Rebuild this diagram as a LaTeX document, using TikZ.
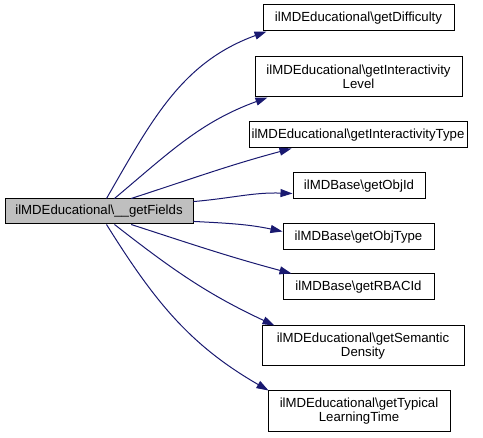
\documentclass[tikz,border=0pt]{standalone}
\usepackage{fontspec}
\setmainfont{Liberation Sans}
\usepackage{tikz}
\usetikzlibrary{arrows.meta, calc}
\definecolor{EdgeBlue}{HTML}{191970}
\definecolor{SrcGray}{HTML}{BFBFBF}

\begin{document}
\begin{tikzpicture}[x=1pt, y=1pt,
    fnbox/.style={draw=black, fill=white, line width=1pt, inner sep=2pt, align=center,
      font=\fontsize{13.2}{14}\selectfont},
    callarrow/.style={draw=EdgeBlue, line width=1pt, -{Triangle[length=12pt, width=8pt]}}]
  \useasboundingbox (0,0) rectangle (483,438);
  % Caller
  \node[fnbox, fill=SrcGray, minimum width=188pt, minimum height=25pt] (src) at (99,226.5)
    {ilMDEducational\textbackslash\_\_getFields};
  % Callees
  \node[fnbox, minimum width=191pt, minimum height=26pt] (difficulty) at (358.5,420)
    {ilMDEducational\textbackslash getDifficulty};
  \node[fnbox, minimum width=207pt, minimum height=40pt] (interLevel) at (358.5,361)
    {ilMDEducational\textbackslash getInteractivity\\Level};
  \node[fnbox, minimum width=218pt, minimum height=26pt] (interType) at (358,303)
    {ilMDEducational\textbackslash getInteractivityType};
  \node[fnbox, minimum width=132pt, minimum height=26pt] (objId) at (359,252)
    {ilMDBase\textbackslash getObjId};
  \node[fnbox, minimum width=151pt, minimum height=26pt] (objType) at (358.5,201)
    {ilMDBase\textbackslash getObjType};
  \node[fnbox, minimum width=151pt, minimum height=26pt] (rbacId) at (358.5,151)
    {ilMDBase\textbackslash getRBACId};
  \node[fnbox, minimum width=202pt, minimum height=40pt] (semDensity) at (363,92)
    {ilMDEducational\textbackslash getSemantic\\Density};
  \node[fnbox, minimum width=182pt, minimum height=41pt] (learnTime) at (359,26.5)
    {ilMDEducational\textbackslash getTypical\\LearningTime};
  % Calls
  \draw[callarrow] (src.60) to[out=60, in=200] ($(difficulty.south west)+(4,0)$);
  \draw[callarrow] (src.40) to[out=40, in=200] ($(interLevel.south west)+(13,0)$);
  \draw[callarrow] (src.22) to[out=18, in=195] ($(interType.south west)+(43,0)$);
  \draw[callarrow] (src.6) to[out=5, in=178] ($(objId.south west)+(0,6)$);
  \draw[callarrow] (src.-6) to[out=-3, in=168] ($(objType.north west)+(0,-8)$);
  \draw[callarrow] (src.-22) to[out=-18, in=165] ($(rbacId.north west)+(9,0)$);
  \draw[callarrow] (src.-40) to[out=-38, in=155] ($(semDensity.north west)+(13,0)$);
  \draw[callarrow] (src.-60) to[out=-58, in=150] ($(learnTime.north west)+(1,0)$);
\end{tikzpicture}
\end{document}
